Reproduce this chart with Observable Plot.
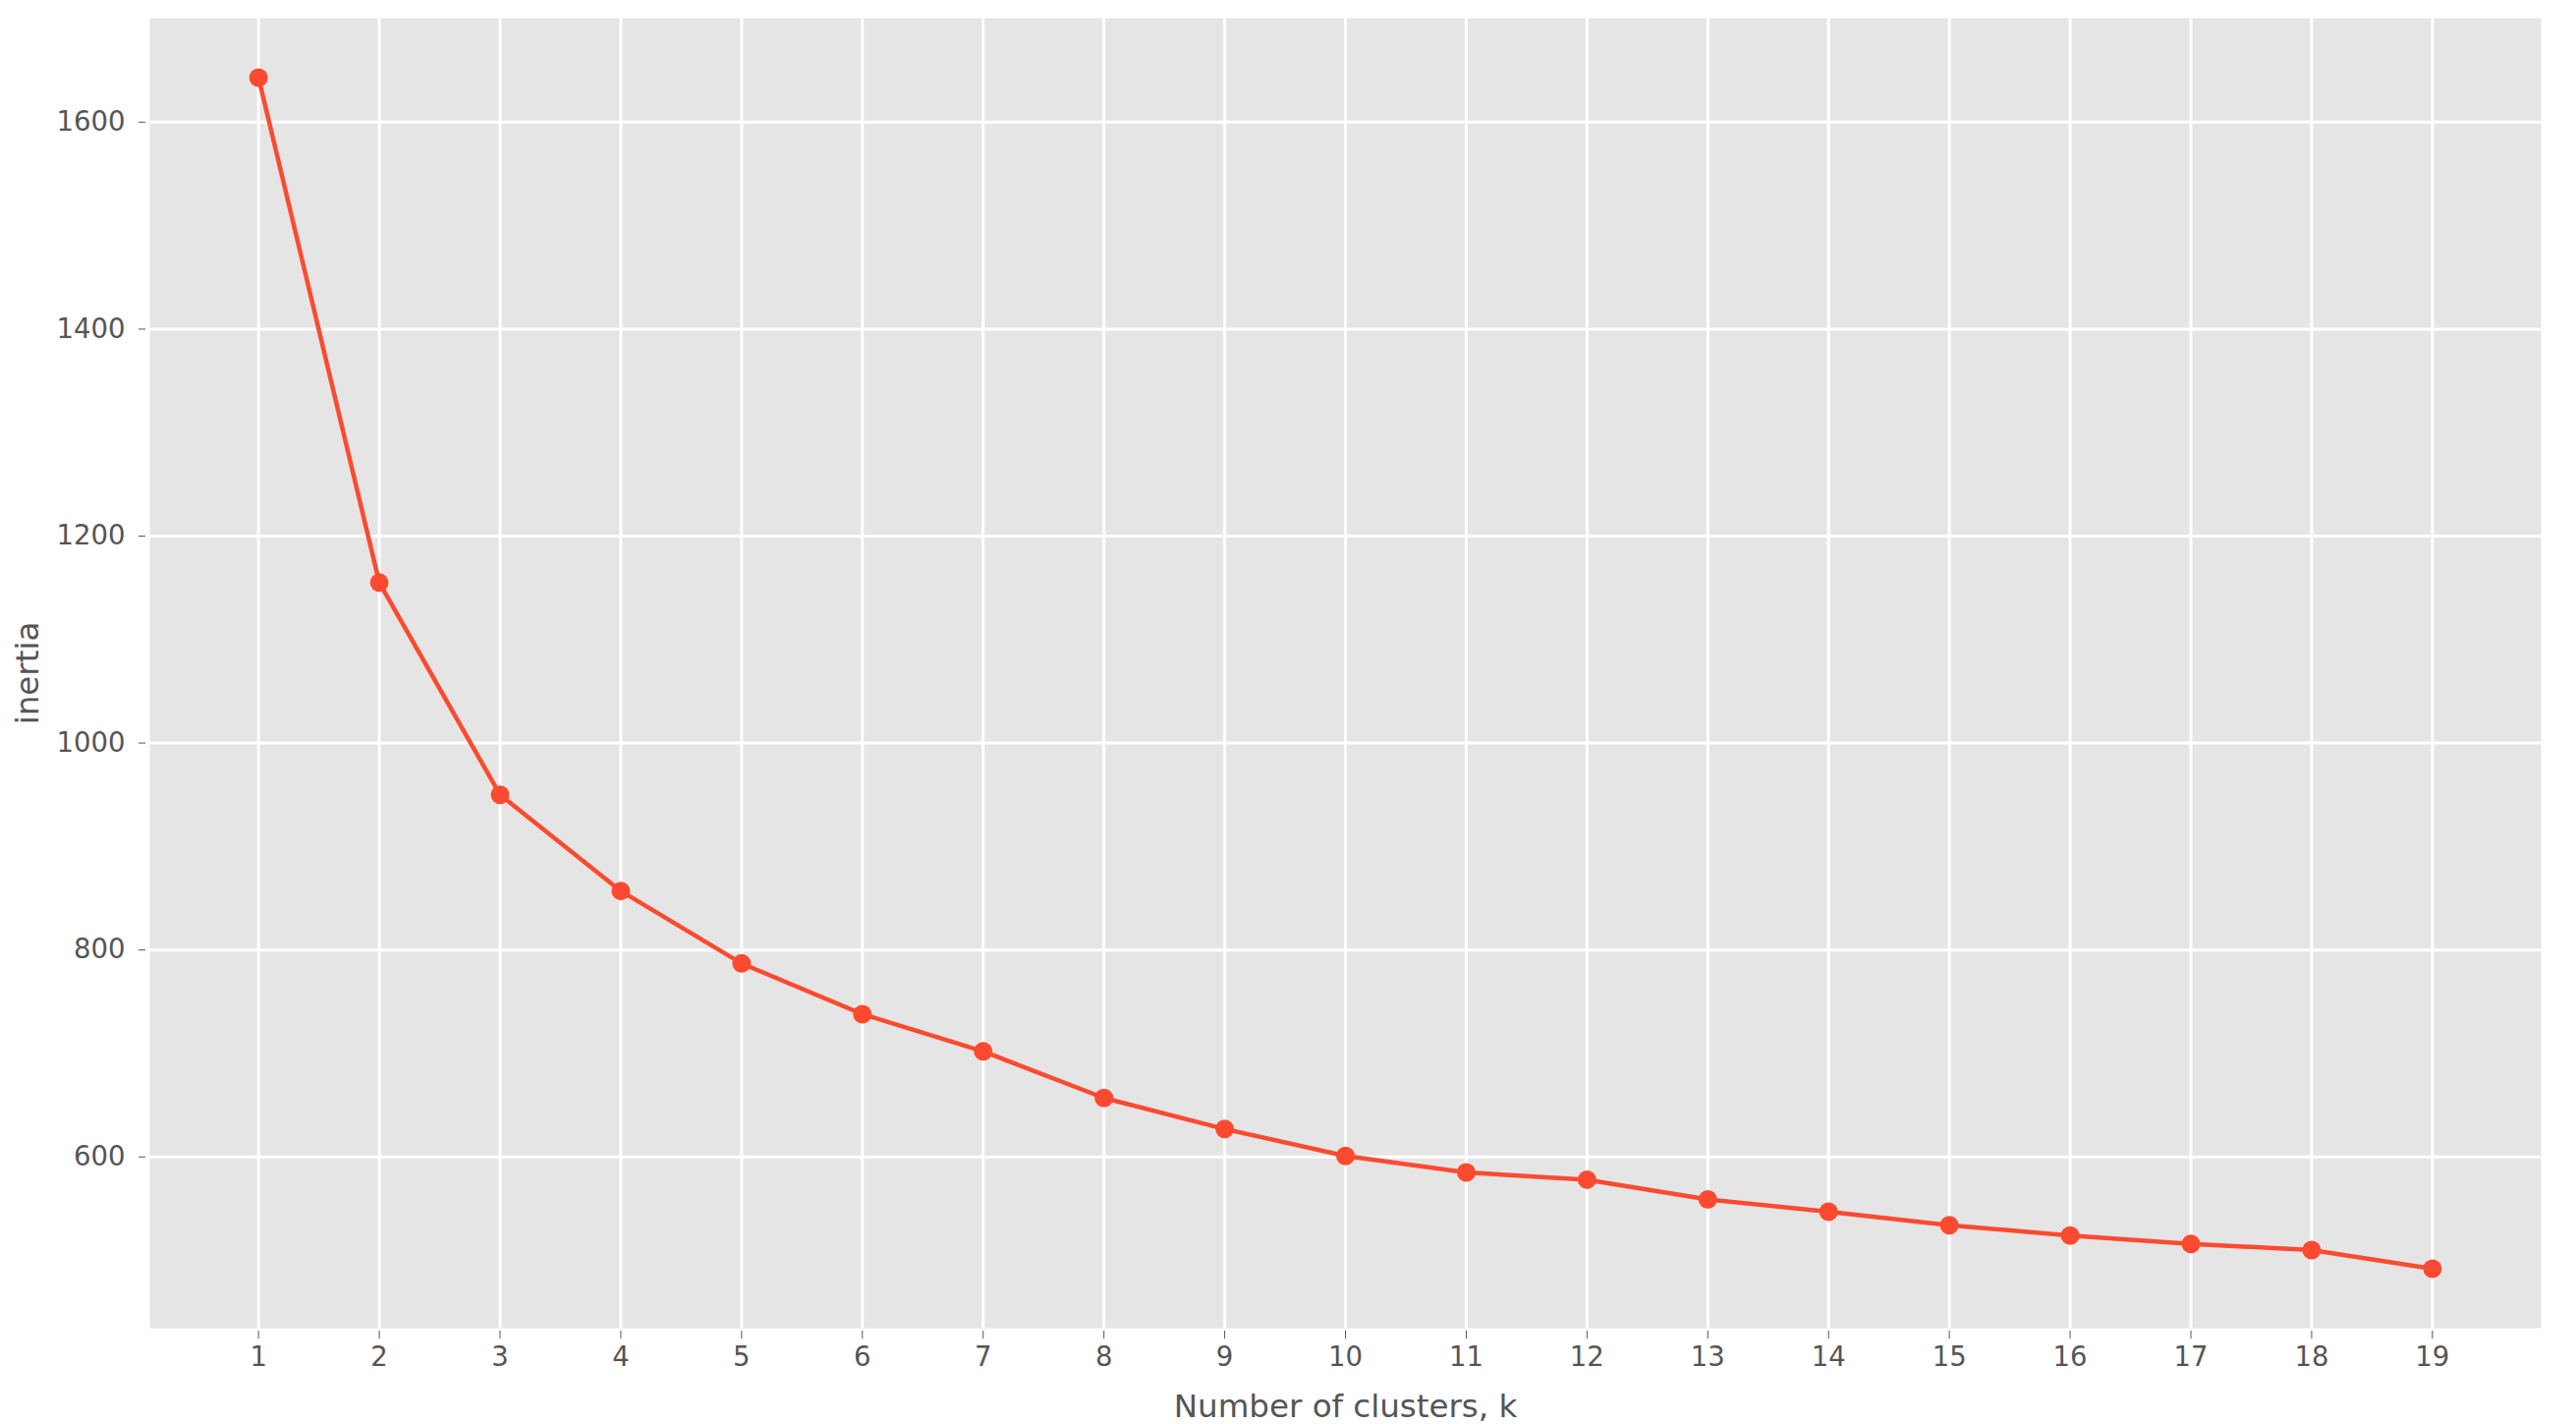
<!DOCTYPE html>
<html><head><meta charset="utf-8">
<script src="https://cdn.jsdelivr.net/npm/d3@7"></script>
<script src="https://cdn.jsdelivr.net/npm/@observablehq/plot@0.6"></script>
<style>
body{margin:0;background:#fff;}
g[aria-label="x-axis label"], g[aria-label="y-axis label"]{font-size:32.5px;}
</style>
</head><body><div id="chart"></div>
<script>
const ks = [1,2,3,4,5,6,7,8,9,10,11,12,13,14,15,16,17,18,19];
const inertia = [1643,1155,950,857,787,738,702,657,627,601,585,578,559,547,534,524,516,510,492];
const xTicks = [1,2,3,4,5,6,7,8,9,10,11,12,13,14,15,16,17,18,19];
const yTicks = [600,800,1000,1200,1400,1600];
const xLabel = "Number of clusters, k";
const yLabel = "inertia";

const data = ks.map((k, i) => ({k, inertia: inertia[i]}));
const col = "#FC4A30";

const chart = Plot.plot({
  width: 2622, height: 1449,
  marginLeft: 152, marginRight: 36, marginTop: 18, marginBottom: 98,
  style: {fontFamily: "DejaVu Sans", background: "#fff", color: "#555"},
  x: {domain: [0.1, 19.9]},
  y: {domain: [434.5, 1700.5]},
  marks: [
    Plot.frame({fill: "#E5E5E5", stroke: null}),
    Plot.gridX(xTicks, {stroke: "#fff", strokeOpacity: 1, strokeWidth: 3}),
    Plot.gridY(yTicks, {stroke: "#fff", strokeOpacity: 1, strokeWidth: 3}),
    Plot.axisX(xTicks, {tickFormat: d => String(d), tickSize: 8, tickPadding: 8, fontSize: 27.5, stroke: "#555", fill: "#555", dy: 3,
      label: xLabel, labelAnchor: "center", labelArrow: "none", labelOffset: 90}),
    Plot.axisY(yTicks, {tickFormat: d => String(d), tickSize: 7, tickPadding: 14, fontSize: 27.5, stroke: "#555", fill: "#555", dx: -4,
      label: yLabel, labelAnchor: "center", labelArrow: "none", labelOffset: 137}),
    Plot.line(data, {x: "k", y: "inertia", stroke: col, strokeWidth: 4.5}),
    Plot.dot(data, {x: "k", y: "inertia", r: 9.5, fill: col, stroke: null})
  ]
});
document.getElementById("chart").append(chart);
</script>
</body></html>
